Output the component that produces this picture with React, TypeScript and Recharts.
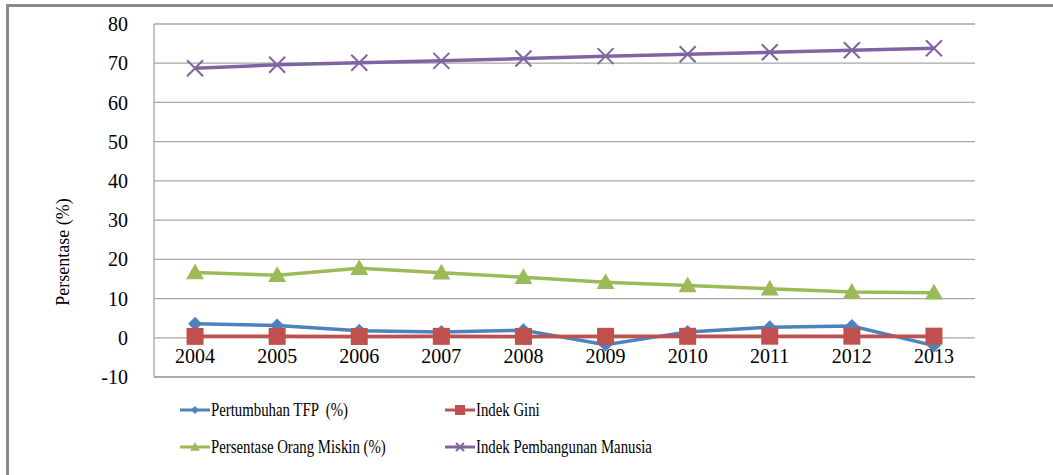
import { LineChart, Line, XAxis, YAxis, CartesianGrid } from 'recharts';

const years = ['2004', '2005', '2006', '2007', '2008', '2009', '2010', '2011', '2012', '2013'];
const tfp = [3.6, 3.1, 1.8, 1.5, 1.9, -1.8, 1.5, 2.7, 3.0, -2.0];
const gini = [0.36, 0.36, 0.33, 0.36, 0.35, 0.37, 0.38, 0.41, 0.41, 0.41];
const miskin = [16.66, 15.97, 17.75, 16.58, 15.42, 14.15, 13.33, 12.49, 11.66, 11.47];
const ipm = [68.7, 69.6, 70.1, 70.6, 71.2, 71.8, 72.3, 72.8, 73.3, 73.8];
const yTicks = [-10, 0, 10, 20, 30, 40, 50, 60, 70, 80];

const data = years.map((y, i) => ({ year: y, tfp: tfp[i], gini: gini[i], miskin: miskin[i], ipm: ipm[i] }));

const FONT = '"Liberation Serif", "Times New Roman", serif';

const Diamond = ({ cx, cy, fill, s = 7 }: any) => (
  <path d={`M${cx},${cy - s}L${cx + s},${cy}L${cx},${cy + s}L${cx - s},${cy}Z`} fill={fill} />
);
const Square = ({ cx, cy, fill, s = 8.5 }: any) => (
  <rect x={cx - s} y={cy - s} width={s * 2} height={s * 2} fill={fill} />
);
const Triangle = ({ cx, cy, fill, s = 9 }: any) => (
  <path d={`M${cx},${cy - s}L${cx + s},${cy + s * 0.75}L${cx - s},${cy + s * 0.75}Z`} fill={fill} />
);
const Cross = ({ cx, cy, stroke, s = 8 }: any) => (
  <path d={`M${cx - s},${cy - s}L${cx + s},${cy + s}M${cx + s},${cy - s}L${cx - s},${cy + s}`} stroke={stroke} strokeWidth={2} fill="none" />
);

const series = [
  { key: 'tfp', name: 'Pertumbuhan TFP  (%)', color: '#4F81BD', mark: 'diamond' },
  { key: 'gini', name: 'Indek Gini', color: '#C0504D', mark: 'square' },
  { key: 'miskin', name: 'Persentase Orang Miskin (%)', color: '#9BBB59', mark: 'triangle' },
  { key: 'ipm', name: 'Indek Pembangunan Manusia', color: '#8064A2', mark: 'cross' },
];

function dotFor(mark: string, color: string) {
  return (p: any) => {
    const k = `${mark}-${p.index}`;
    if (mark === 'diamond') return <Diamond key={k} cx={p.cx} cy={p.cy} fill={color} />;
    if (mark === 'square') return <Square key={k} cx={p.cx} cy={p.cy} fill={color} />;
    if (mark === 'triangle') return <Triangle key={k} cx={p.cx} cy={p.cy} fill={color} />;
    return <Cross key={k} cx={p.cx} cy={p.cy} stroke={color} />;
  };
}

const XTick = ({ x, y, payload }: any) => (
  <text x={x} y={y - 22} textAnchor="middle" fontSize={20} fontFamily={FONT} fill="#000">
    {payload.value}
  </text>
);

function MarkIcon({ mark, color }: { mark: string; color: string }) {
  return (
    <svg width={32} height={20} style={{ display: 'block' }}>
      <line x1={1} y1={10} x2={31} y2={10} stroke={color} strokeWidth={3} />
      {mark === 'diamond' && <Diamond cx={16} cy={10} fill={color} s={4} />}
      {mark === 'square' && <Square cx={16} cy={10} fill={color} s={5} />}
      {mark === 'triangle' && <Triangle cx={16} cy={10} fill={color} s={5} />}
      {mark === 'cross' && <Cross cx={16} cy={10} stroke={color} s={4} />}
    </svg>
  );
}

export default function App() {
  return (
    <div style={{ position: 'relative', width: 1053, height: 475, overflow: 'hidden', background: '#fff' }}>
      <style>{`body{margin:0}`}</style>
      <div style={{ position: 'absolute', left: 6, top: 4, width: 1100, height: 520, border: '3px solid #8a8a8a' }} />
      <div
        style={{
          position: 'absolute', left: 63, top: 252, transform: 'translate(-50%, -50%) rotate(-90deg)',
          fontFamily: FONT, fontSize: 18, whiteSpace: 'nowrap',
        }}
      >
        Persentase (%)
      </div>
      <LineChart
        width={1053}
        height={475}
        data={data}
        margin={{ top: 24, right: 78, left: 74, bottom: 88 }}
        style={{ position: 'absolute', left: 0, top: 0 }}
      >
        <CartesianGrid vertical={false} stroke="#a6a6a6" strokeWidth={1.3} />
        <XAxis
          dataKey="year"
          scale="band"
          axisLine={{ stroke: '#a6a6a6', strokeWidth: 1.3 }}
          tickLine={false}
          tick={<XTick />}
          height={10}
          interval={0}
        />
        <YAxis
          domain={[-10, 80]}
          ticks={yTicks}
          width={80}
          axisLine={{ stroke: '#a6a6a6', strokeWidth: 1.3 }}
          tickLine={false}
          tick={{ fontSize: 20, fontFamily: FONT, fill: '#000' }}
          tickMargin={20}
        />
        {series.map((s) => (
          <Line
            key={s.key}
            dataKey={s.key}
            name={s.name}
            stroke={s.color}
            strokeWidth={3.5}
            dot={dotFor(s.mark, s.color)}
            activeDot={false}
            isAnimationActive={false}
          />
        ))}
      </LineChart>
      {series.map((s, i) => {
        const left = i % 2 === 0 ? 179 : 444;
        const top = i < 2 ? 399 : 436;
        return (
          <div
            key={s.key}
            style={{
              position: 'absolute', left, top, display: 'flex', alignItems: 'center',
              fontFamily: FONT, fontSize: 18.5, whiteSpace: 'pre', lineHeight: '22px',
            }}
          >
            <MarkIcon mark={s.mark} color={s.color} />
            <span style={{ display: 'inline-block', transform: 'scaleX(0.8)', transformOrigin: 'left center' }}>
              {s.name}
            </span>
          </div>
        );
      })}
    </div>
  );
}
